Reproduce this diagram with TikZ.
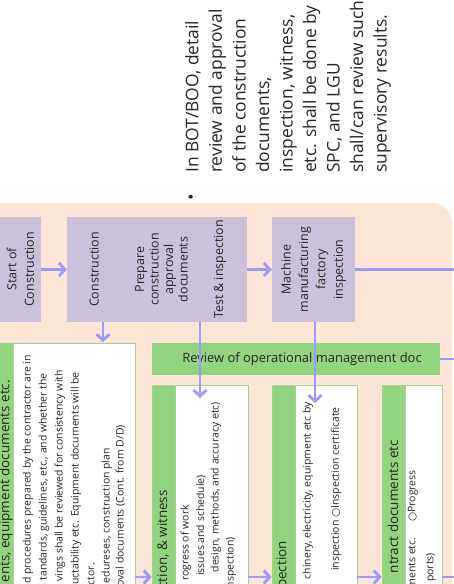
\documentclass[tikz,border=0pt]{standalone}
\usepackage{fontspec}
\setmainfont{Open Sans}
\newfontfamily\symfont{DejaVu Sans}
\usetikzlibrary{arrows.meta}
\definecolor{peach}{RGB}{251,229,214}
\definecolor{lav}{RGB}{204,193,218}
\definecolor{leaf}{RGB}{146,212,128}
\definecolor{edgegreen}{RGB}{169,209,142}
\definecolor{flowblue}{RGB}{153,153,255}
\definecolor{ink}{RGB}{38,38,38}
\newcommand{\optmark}{{\symfont ○}}

\begin{document}
\begin{tikzpicture}[x=1bp, y=-1bp,
        proc/.style={fill=lav, inner sep=0},
        lbl/.style={rotate=90, align=center, inner sep=0, text=ink, font=\fontsize{12.5}{17.5}\selectfont},
        strip/.style={fill=leaf, draw=edgegreen, line width=0.6bp, inner sep=0},
        card/.style={fill=white, draw=edgegreen, line width=0.6bp, inner sep=0},
        head/.style={rotate=90, anchor=east, inner sep=0, text=ink, font=\fontsize{13.5}{16}\selectfont},
        note/.style={rotate=90, anchor=east, inner sep=0, text=ink, font=\fontsize{10.5}{13}\selectfont},
        bul/.style={rotate=90, align=left, inner sep=0, text=ink, font=\fontsize{17.5}{23.6}\selectfont},
        flow/.style={draw=flowblue, line width=2.8bp, -{Straight Barb[length=6bp, width=13bp]}},
        link/.style={draw=flowblue, line width=2.8bp}]
        \useasboundingbox (0,0) rectangle (454,584);
        \clip (0,0) rectangle (454,584);

        % side remark
        \node[bul, anchor=west] (remark) at (288,173) {In BOT/BOO, detail\\review and approval\\of the construction\\documents,\\inspection, witness,\\etc. shall be done by\\SPC, and LGU\\shall/can review such\\supervisory results.};
        \node[bul] (dot) at (193,197) {•};

        % panel
        \fill[peach, rounded corners=20bp] (-30,203) rectangle (452,650);

        % top row
        \node[proc, minimum width=41bp, minimum height=105bp] (start) at (20.5,269.5) {};
        \node[proc, minimum width=180bp, minimum height=105bp] (constr) at (157,269.5) {};
        \node[proc, minimum width=83bp, minimum height=105bp] (machine) at (313.5,269.5) {};
        \node[lbl] at (start) {Start of\\Construction};
        \node[lbl] (c1) at (94,269.5) {Construction};
        \node[lbl, font=\fontsize{12.5}{14.5}\selectfont] (c2) at (161.5,269.5) {Prepare\\construction\\approval\\documents};
        \node[lbl] (c3) at (220,269.5) {Test \& inspection};
        \node[lbl] at (machine) {Machine\\manufacturing\\factory\\inspection};

        % review bar
        \node[fill=leaf, minimum width=288bp, minimum height=32bp, inner sep=0] (review) at (296,359) {};
        \node[text=ink, font=\fontsize{13}{15}\selectfont] at (302,359) {Review of operational management doc};

        % lower boxes
        \node[strip, minimum width=33bp, minimum height=297bp] (ga) at (-3.5,491.5) {};
        \node[card, minimum width=122bp, minimum height=297bp] (wa) at (74,491.5) {};
        \node[strip, minimum width=23bp, minimum height=255bp] (gb) at (163.5,512.5) {};
        \node[card, minimum width=73bp, minimum height=255bp] (wb) at (211.5,512.5) {};
        \node[strip, minimum width=23bp, minimum height=255bp] (gc) at (283.5,512.5) {};
        \node[card, minimum width=62bp, minimum height=255bp] (wc) at (326,512.5) {};
        \node[strip, minimum width=23bp, minimum height=255bp] (gd) at (393.5,512.5) {};
        \node[card, minimum width=37bp, minimum height=255bp] (wd) at (423.5,512.5) {};

        \node[head] at (6,380) {ents, equipment documents etc.};
        \node[head] at (163,490) {ction, \& witness};
        \node[head] at (283,541) {pection};
        \node[head] at (393,440) {ntract documents etc};

        \foreach \x/\y/\t in {28/355/{d procedures prepared by the contractor are in},
                44/373/{tandards, guidelines, etc., and whether the},
                60/370/{vings shall be reviewed for consistency with},
                76/372/{uctability etc. Equipment documents will be},
                91/563/{ractor.},
                107/448/{edureses, construction plan},
                121/425/{approval documents (Cont. from D/D)},
                186/505/{rogress of work},
                201/475/{issues and schedule)},
                216/402/{design, methods, and accuracy etc)},
                231/537/{inspection)},
                308/402/{chinery, electricity, equipment etc by},
                336/407/{inspection \optmark Inspection certificate},
                413/470/{ments etc.\hspace{16bp}\optmark Progress},
                431/553/{ports)}}
            \node[note] at (\x,\y) {\t};

        % connectors
        \coordinate (out) at (460,267);
        \coordinate (row) at (0,577);
        \coordinate (tipa) at (103,342);
        \coordinate (tipb) at (200,398);
        \coordinate (tipc) at (315,403);
        \draw[flow] (start) -- (constr);
        \draw[flow] (constr) -- (machine);
        \draw[link] (machine) -- (machine -| out);
        \draw[flow] (constr.south -| tipa) -- (tipa);
        \draw[flow] (constr.south -| tipb) -- (tipb);
        \draw[flow] (machine.south -| tipc) -- (tipc);
        \draw[link] (review) -- (review -| out);
        \draw[flow] (wa.east |- row) -- (gb.west |- row);
        \draw[flow] (wb.east |- row) -- (gc.west |- row);
        \draw[flow] (wc.east |- row) -- (gd.west |- row);
        \draw[link] (wd.east |- row) -- (out |- row);
    \end{tikzpicture}
\end{document}
